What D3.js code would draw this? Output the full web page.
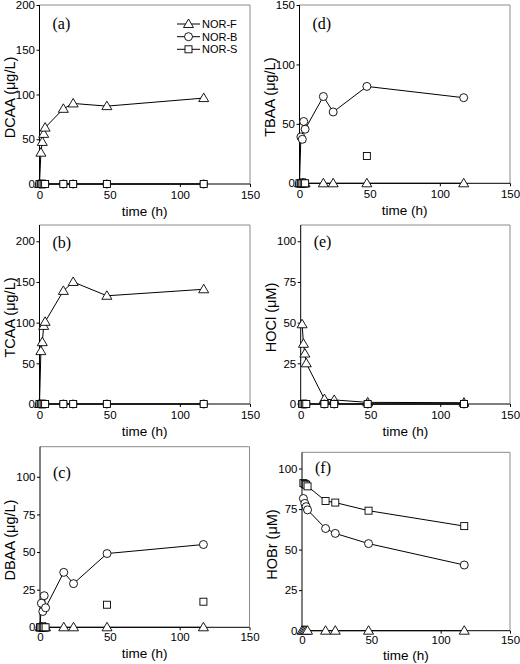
<!DOCTYPE html>
<html>
<head>
<meta charset="utf-8">
<script src="https://cdn.jsdelivr.net/npm/d3@7"></script>
<style>
  html, body { margin: 0; padding: 0; background: #fff; }
  svg { display: block; }
  text { fill: #000; }
</style>
</head>
<body>
<svg id="chart" width="520" height="664"></svg>
<script>
// ---------------- data ----------------
const times = [0, 1, 2, 3, 4, 17, 24, 48, 117];
const seriesNames = ["NOR-F", "NOR-B", "NOR-S"];
const xTicks = [0, 50, 100, 150];
const panelLabels = ["(a)", "(b)", "(c)", "(d)", "(e)", "(f)"];
const yTitles = ["DCAA (μg/L)", "TCAA (μg/L)", "DBAA (μg/L)", "TBAA (μg/L)", "HOCl (μM)", "HOBr (μM)"];
const yMax = [200, 220, 120, 150, 110, 110];
const yTicks = [
  [0, 50, 100, 150, 200],
  [0, 50, 100, 150, 200],
  [0, 25, 50, 75, 100],
  [0, 50, 100, 150],
  [0, 25, 50, 75, 100],
  [0, 25, 50, 75, 100]
];

// (a) DCAA
const dcaaF = [0, 35, 47, 56, 63, 84, 90, 87, 96];
const dcaaB = [0, 0, 0, 0, 0, 0, 0, 0, 0];
const dcaaS = [0, 0, 0, 0, 0, 0, 0, 0, 0];
// (b) TCAA
const tcaaF = [0, 65, 76, 96, 101, 139, 150, 133, 141];
const tcaaB = [0, 0, 0, 0, 0, 0, 0, 0, 0];
const tcaaS = [0, 0, 0, 0, 0, 0, 0, 0, 0];
// (c) DBAA
const dbaaF = [0, 0, 0, 0, 0, 0, 0, 0, 0];
const dbaaB = [0, 16, 10.5, 21, 13, 36.5, 29, 49, 55];
const dbaaS = [0, 0, 0, 0, 0, null, null, 15, 17];
// (d) TBAA
const tbaaF = [0, 0, 0, 0, 0, 0, 0, 0, 0];
const tbaaB = [0, 39, 37, 52, 45.5, 73, 60, 81.5, 72];
const tbaaS = [0, 0, 0, 0, 0, null, null, 23, null];
// (e) HOCl
const hoclF = [null, 49, 37, 31, 25, 3, 2.5, 1, 0.8];
const hoclB = [null, 0, 0, 0, 0, 0, 0, 0, 0];
const hoclS = [null, 0, 0, 0, 0, 0, 0, 0, 0];
// (f) HOBr
const hobrF = [0, 0, 0, 0, 0, 0, 0, 0, 0];
const hobrB = [null, 81.5, 78.5, 76.5, 74.5, 63, 60, 53.7, 40.5];
const hobrS = [null, 91, 90.5, 90, 89, 80, 79, 74, 64.5];

const panelSeries = [
  [dcaaF, dcaaB, dcaaS],
  [tcaaF, tcaaB, tcaaS],
  [dbaaF, dbaaB, dbaaS],
  [tbaaF, tbaaB, tbaaS],
  [hoclF, hoclB, hoclS],
  [hobrF, hobrB, hobrS]
];

// ---------------- layout / style ----------------
const SANS = '"Liberation Sans", Arial, sans-serif';
const SERIF = '"Liberation Serif", "Times New Roman", serif';
const layout = [
  { l: 39.5, r: 250, t: 5,     b: 184,   labDy: 24, tickDy: 15, titleDy: 32 },
  { l: 39.5, r: 250, t: 225,   b: 404,   labDy: 23, tickDy: 15, titleDy: 32 },
  { l: 40,   r: 249.5, t: 446.7, b: 627.3, labDy: 31, tickDy: 14, titleDy: 31 },
  { l: 299.5, r: 510, t: 5,    b: 183.3, labDy: 24, tickDy: 15, titleDy: 32 },
  { l: 300.7, r: 510, t: 225,  b: 404,   labDy: 22, tickDy: 15, titleDy: 32 },
  { l: 302,  r: 510, t: 452.3, b: 630.7, labDy: 21, tickDy: 13, titleDy: 29 }
];
// whether each series is joined by a line, per panel
const connect = [
  [true, true, true],
  [true, true, true],
  [true, true, false],
  [true, true, false],
  [true, true, true],
  [true, true, true]
];

const svg = d3.select("#chart");

function marker(g, kind, x, y) {
  if (kind === 0) { // triangle
    const w = 5, hTop = 5, hBot = 3.5;
    g.append("path")
      .attr("d", `M${x},${y - hTop}L${x + w},${y + hBot}L${x - w},${y + hBot}Z`)
      .attr("fill", "#fff").attr("stroke", "#000").attr("stroke-width", 0.9);
  } else if (kind === 1) { // circle
    g.append("circle").attr("cx", x).attr("cy", y).attr("r", 4)
      .attr("fill", "#fff").attr("stroke", "#000").attr("stroke-width", 0.9);
  } else { // square
    g.append("rect").attr("x", x - 3.5).attr("y", y - 3.5).attr("width", 7).attr("height", 7)
      .attr("fill", "#fff").attr("stroke", "#000").attr("stroke-width", 0.9);
  }
}

panelSeries.forEach((series, p) => {
  const L = layout[p];
  const x = d3.scaleLinear().domain([0, 150]).range([L.l, L.r]);
  const y = d3.scaleLinear().domain([0, yMax[p]]).range([L.b, L.t]);
  const g = svg.append("g");

  // frame top/right (grey)
  g.append("path")
    .attr("d", `M${L.l},${L.t}H${L.r}V${L.b}`)
    .attr("fill", "none").attr("stroke", "#8a8a8a").attr("stroke-width", 1);

  // axes
  const ax = g.append("g").attr("transform", `translate(0,${L.b})`)
    .call(d3.axisBottom(x).tickValues(xTicks).tickSize(3).tickPadding(2).tickSizeOuter(0));
  ax.select(".domain").remove();
  ax.selectAll("text").style("font-family", SANS).style("font-size", "11.5px")
    .attr("dy", null).attr("y", L.tickDy);

  const ay = g.append("g").attr("transform", `translate(${L.l},0)`)
    .call(d3.axisLeft(y).tickValues(yTicks[p]).tickSize(3).tickPadding(1.5).tickSizeOuter(0));
  ay.select(".domain").remove();
  ay.selectAll("text").style("font-family", SANS).style("font-size", "11.5px");

  g.append("line").attr("x1", L.l).attr("x2", L.r).attr("y1", L.b).attr("y2", L.b)
    .attr("stroke", "#000").attr("stroke-width", 1);
  g.append("line").attr("x1", L.l).attr("x2", L.l).attr("y1", L.t).attr("y2", L.b)
    .attr("stroke", "#000").attr("stroke-width", 1);

  // titles
  g.append("text").attr("x", (L.l + L.r) / 2).attr("y", L.b + L.titleDy)
    .attr("text-anchor", "middle").style("font-family", SANS).style("font-size", "13.5px")
    .text("time (h)");
  g.append("text")
    .attr("transform", `translate(${L.l - 25},${(L.t + L.b) / 2 + 3}) rotate(-90)`)
    .attr("text-anchor", "middle").style("font-family", SANS).style("font-size", "14.5px")
    .text(yTitles[p]);

  g.append("text").attr("x", L.l + 13).attr("y", L.t + L.labDy)
    .style("font-family", SERIF).style("font-size", "16px")
    .text(panelLabels[p]);

  // lines
  const line = d3.line().x(d => x(d.t)).y(d => y(d.v));
  series.forEach((vals, s) => {
    const pts = times.map((t, i) => ({ t, v: vals[i] })).filter(d => d.v !== null);
    if (connect[p][s]) {
      g.append("path").attr("d", line(pts)).attr("fill", "none")
        .attr("stroke", "#000").attr("stroke-width", 1);
    }
  });
  // markers
  series.forEach((vals, s) => {
    times.forEach((t, i) => {
      if (vals[i] !== null) marker(g, s, x(t), y(vals[i]));
    });
  });
});

// legend in panel (a)
const legY = [24, 36.7, 49.3];
const lg = svg.append("g");
seriesNames.forEach((name, s) => {
  lg.append("line").attr("x1", 177).attr("x2", 200).attr("y1", legY[s]).attr("y2", legY[s])
    .attr("stroke", "#000").attr("stroke-width", 1);
  marker(lg, s, 188.5, legY[s]);
  lg.append("text").attr("x", 202).attr("y", legY[s]).attr("dy", "0.35em")
    .style("font-family", SANS).style("font-size", "11px").text(name);
});
</script>
</body>
</html>
